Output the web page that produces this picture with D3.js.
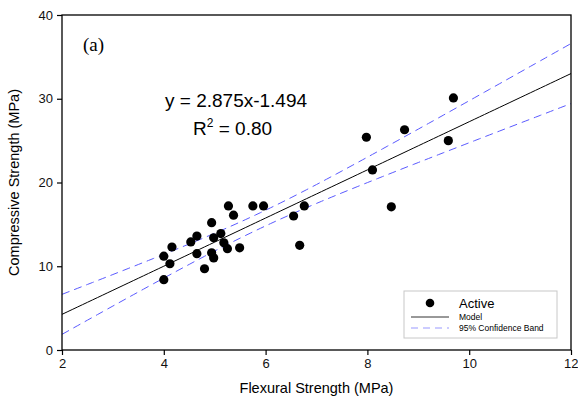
<!DOCTYPE html>
<html>
<head>
<meta charset="utf-8">
<script src="https://cdn.jsdelivr.net/npm/d3@7"></script>
<style>
  body { margin: 0; background: #fff; }
  svg text { font-family: "Liberation Sans", Arial, sans-serif; }
</style>
</head>
<body>
<div id="chart"></div>
<script>
// Flexural vs compressive strength, "Active" series
const flexural = [5.27, 5.75, 5.96, 5.37, 4.94, 4.65, 5.12, 4.98, 4.53, 5.18,
                  4.16, 5.25, 5.49, 4.00, 4.65, 4.94, 4.98, 4.12, 4.80, 4.00,
                  6.55, 6.76, 6.67, 9.69, 8.73, 7.98, 9.59, 8.10, 8.47];
const compressive = [17.2, 17.2, 17.2, 16.1, 15.2, 13.6, 13.9, 13.4, 12.9, 12.8,
                     12.3, 12.1, 12.2, 11.2, 11.5, 11.6, 11.0, 10.3, 9.7, 8.4,
                     16.0, 17.2, 12.5, 30.1, 26.3, 25.4, 25.0, 21.5, 17.1];
const slope = 2.875, intercept = -1.494;
const xTicks = [2, 4, 6, 8, 10, 12];
const yTicks = [0, 10, 20, 30, 40];

const width = 578, height = 402;
const margin = {left: 62, right: 7, top: 15, bottom: 52};

const svg = d3.select("#chart").append("svg")
    .attr("width", width)
    .attr("height", height);

const x = d3.scaleLinear().domain([2, 12]).range([margin.left, width - margin.right]);
const y = d3.scaleLinear().domain([0, 40]).range([height - margin.bottom, margin.top]);

// 95% confidence band of the mean, from the residuals around the model line
const n = flexural.length;
const xm = d3.mean(flexural);
const sxx = d3.sum(flexural, v => (v - xm) * (v - xm));
const sse = d3.sum(flexural, (v, i) => Math.pow(compressive[i] - (slope * v + intercept), 2));
const s = Math.sqrt(sse / (n - 2));
const tval = 2.052;
const gridX = d3.range(2, 12.01, 0.1);
const band = gridX.map(v => {
    const fit = slope * v + intercept;
    const hw = tval * s * Math.sqrt(1 / n + (v - xm) * (v - xm) / sxx);
    return {x: v, fit, lo: fit - hw, hi: fit + hw};
});

const plot = svg.append("g");
plot.append("clipPath").attr("id", "clip")
  .append("rect")
    .attr("x", margin.left).attr("y", margin.top)
    .attr("width", width - margin.left - margin.right)
    .attr("height", height - margin.top - margin.bottom);

const lines = plot.append("g").attr("clip-path", "url(#clip)");

lines.append("path")
    .datum(band)
    .attr("fill", "none")
    .attr("stroke", "#000")
    .attr("stroke-width", 1)
    .attr("d", d3.line().x(d => x(d.x)).y(d => y(d.fit)));

["lo", "hi"].forEach(k => {
    lines.append("path")
        .datum(band)
        .attr("fill", "none")
        .attr("stroke", "#5a5aff")
        .attr("stroke-width", 1)
        .attr("stroke-dasharray", "8,5")
        .attr("d", d3.line().x(d => x(d.x)).y(d => y(d[k])));
});

plot.append("g")
  .selectAll("circle")
  .data(flexural)
  .enter().append("circle")
    .attr("cx", d => x(d))
    .attr("cy", (d, i) => y(compressive[i]))
    .attr("r", 4.6)
    .attr("fill", "#000");

// frame
svg.append("rect")
    .attr("x", margin.left).attr("y", margin.top)
    .attr("width", width - margin.left - margin.right)
    .attr("height", height - margin.top - margin.bottom)
    .attr("fill", "none")
    .attr("stroke", "#000")
    .attr("stroke-width", 1.3);

const xAxis = svg.append("g")
    .attr("transform", `translate(0,${height - margin.bottom})`)
    .call(d3.axisBottom(x).tickValues(xTicks).tickSize(5).tickPadding(4));
const yAxis = svg.append("g")
    .attr("transform", `translate(${margin.left},0)`)
    .call(d3.axisLeft(y).tickValues(yTicks).tickSize(5).tickPadding(4));
[xAxis, yAxis].forEach(a => {
    a.select(".domain").remove();
    a.selectAll("line").attr("stroke", "#000").attr("stroke-width", 1.2);
    a.selectAll("text")
        .style("font-family", "'Liberation Sans', Arial, sans-serif")
        .style("font-size", "13px")
        .attr("fill", "#111");
});
// keep the last x label inside the picture
xAxis.selectAll(".tick text").filter(d => d === 12).attr("text-anchor", "end").attr("dx", "7");

svg.append("text")
    .attr("x", (margin.left + width - margin.right) / 2)
    .attr("y", 393)
    .attr("text-anchor", "middle")
    .style("font-size", "14.5px")
    .text("Flexural Strength (MPa)");

svg.append("text")
    .attr("transform", `translate(19,${(margin.top + height - margin.bottom) / 2}) rotate(-90)`)
    .attr("text-anchor", "middle")
    .style("font-size", "14.5px")
    .text("Compressive Strength (MPa)");

svg.append("text")
    .attr("x", 83).attr("y", 51)
    .style("font-family", "'Liberation Serif', 'Times New Roman', serif")
    .style("font-size", "19px")
    .text("(a)");

svg.append("text")
    .attr("x", 165).attr("y", 107)
    .style("font-size", "19px")
    .text(`y = ${slope}x${intercept}`);

const r2 = svg.append("text")
    .attr("x", 193).attr("y", 135)
    .style("font-size", "19px");
r2.append("tspan").text("R");
r2.append("tspan").attr("dy", -8).style("font-size", "12px").text("2");
r2.append("tspan").attr("dy", 8).text(" = 0.80");

// legend
const lg = svg.append("g");
lg.append("rect")
    .attr("x", 404).attr("y", 291)
    .attr("width", 153).attr("height", 47)
    .attr("fill", "#fff")
    .attr("stroke", "#c8c8c8")
    .attr("stroke-width", 1);
lg.append("circle").attr("cx", 430).attr("cy", 303).attr("r", 4.3).attr("fill", "#000");
lg.append("text").attr("x", 459).attr("y", 308).style("font-size", "13px").text("Active");
lg.append("line").attr("x1", 411).attr("x2", 449).attr("y1", 317).attr("y2", 317)
    .attr("stroke", "#333").attr("stroke-width", 1);
lg.append("text").attr("x", 459).attr("y", 320).style("font-size", "8.5px").text("Model");
lg.append("line").attr("x1", 411).attr("x2", 449).attr("y1", 328).attr("y2", 328)
    .attr("stroke", "#9a9aff").attr("stroke-width", 1.2).attr("stroke-dasharray", "7,5");
lg.append("text").attr("x", 459).attr("y", 331).style("font-size", "8.5px").text("95% Confidence Band");
</script>
</body>
</html>
